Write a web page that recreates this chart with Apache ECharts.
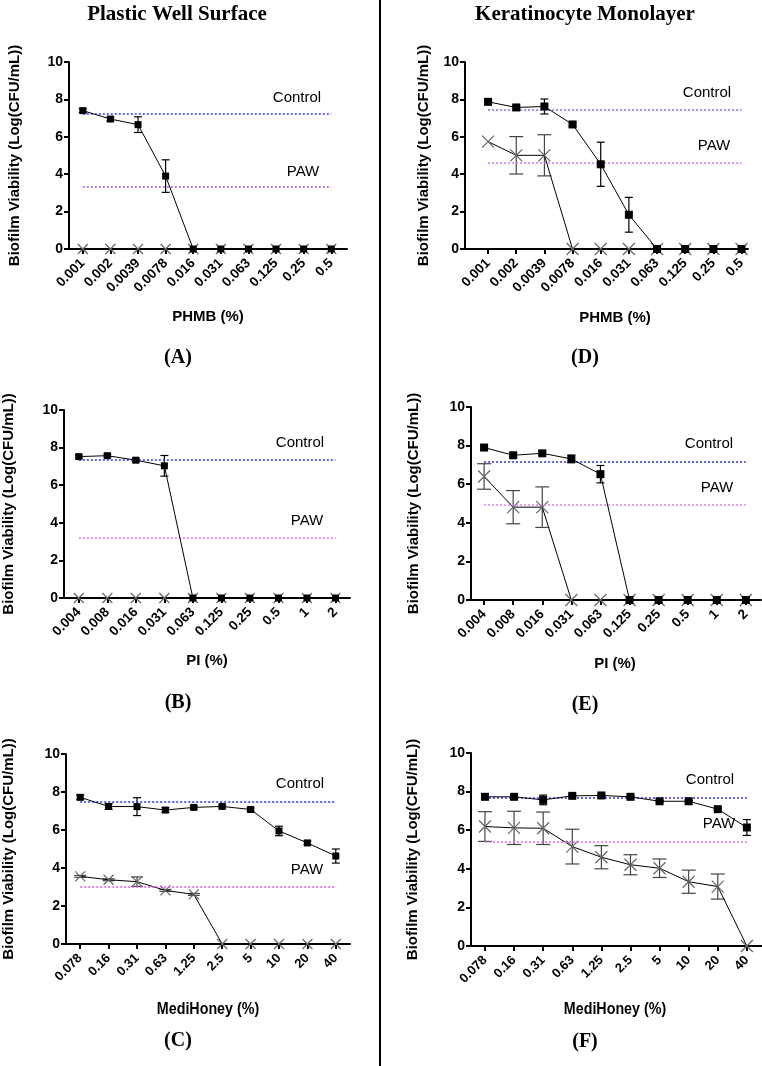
<!DOCTYPE html>
<html>
<head>
<meta charset="utf-8">
<script src="https://cdn.jsdelivr.net/npm/echarts@6/dist/echarts.min.js"></script>
<style>
html,body{margin:0;padding:0;background:#fff;}
#chart{width:762px;height:1066px;}
</style>
</head>
<body>
<div id="chart"></div>
<script>
// ---------- categories ----------
const phmbCats = ['0.001','0.002','0.0039','0.0078','0.016','0.031','0.063','0.125','0.25','0.5'];
const piCats = ['0.004','0.008','0.016','0.031','0.063','0.125','0.25','0.5','1','2'];
const honeyCats = ['0.078','0.16','0.31','0.63','1.25','2.5','5','10','20','40'];
const yTicks = [0, 2, 4, 6, 8, 10];

// ---------- Panel A (Plastic, PHMB) ----------
const aCtrl    = [7.40, 6.95, 6.65, 3.90, 0, 0, 0, 0, 0, 0];
const aCtrlErr = [0.10, 0.10, 0.42, 0.87, 0, 0, 0, 0, 0, 0];
const aPaw     = [0, 0, 0, 0, 0, 0, 0, 0, 0, 0];
const aPawErr  = [0, 0, 0, 0, 0, 0, 0, 0, 0, 0];
const aCtrlRef = 7.22;
const aPawRef  = 3.32;

// ---------- Panel B (Plastic, PI) ----------
const bCtrl    = [7.52, 7.57, 7.33, 7.03, 0, 0, 0, 0, 0, 0];
const bCtrlErr = [0.08, 0.08, 0.08, 0.55, 0, 0, 0, 0, 0, 0];
const bPaw     = [0, 0, 0, 0, 0, 0, 0, 0, 0, 0];
const bPawErr  = [0, 0, 0, 0, 0, 0, 0, 0, 0, 0];
const bCtrlRef = 7.38;
const bPawRef  = 3.22;

// ---------- Panel C (Plastic, MediHoney) ----------
const cCtrl    = [7.72, 7.24, 7.23, 7.05, 7.19, 7.24, 7.08, 5.95, 5.32, 4.63];
const cCtrlErr = [0.12, 0.15, 0.47, 0.12, 0.08, 0.08, 0.08, 0.25, 0.10, 0.37];
const cPaw     = [3.56, 3.38, 3.28, 2.82, 2.61, 0, 0, 0, 0, 0];
const cPawErr  = [0.05, 0.05, 0.25, 0.05, 0.05, 0, 0, 0, 0, 0];
const cCtrlRef = 7.50;
const cPawRef  = 3.03;

// ---------- Panel D (Keratinocyte, PHMB) ----------
const dCtrl    = [7.87, 7.57, 7.62, 6.66, 4.53, 1.83, 0, 0, 0, 0];
const dCtrlErr = [0.10, 0.10, 0.40, 0.10, 1.18, 0.93, 0, 0, 0, 0];
const dPaw     = [5.74, 5.01, 5.01, 0, 0, 0, 0, 0, 0, 0];
const dPawErr  = [0, 1.00, 1.10, 0, 0, 0, 0, 0, 0, 0];
const dCtrlRef = 7.46;
const dPawRef  = 4.60;

// ---------- Panel E (Keratinocyte, PI) ----------
const eCtrl    = [7.90, 7.50, 7.60, 7.31, 6.52, 0, 0, 0, 0, 0];
const eCtrlErr = [0.10, 0.10, 0.10, 0.20, 0.45, 0, 0, 0, 0, 0];
const ePaw     = [6.40, 4.81, 4.81, 0, 0, 0, 0, 0, 0, 0];
const ePawErr  = [0.66, 0.86, 1.05, 0, 0, 0, 0, 0, 0, 0];
const eCtrlRef = 7.17;
const ePawRef  = 4.93;

// ---------- Panel F (Keratinocyte, MediHoney) ----------
const fCtrl    = [7.73, 7.73, 7.57, 7.78, 7.80, 7.73, 7.50, 7.50, 7.09, 6.14];
const fCtrlErr = [0.05, 0.05, 0.25, 0.05, 0.05, 0.05, 0.05, 0.05, 0.05, 0.41];
const fPaw     = [6.19, 6.12, 6.10, 5.15, 4.60, 4.21, 4.03, 3.33, 3.08, 0];
const fPawErr  = [0.77, 0.86, 0.84, 0.90, 0.60, 0.52, 0.48, 0.60, 0.65, 0];
const fCtrlRef = 7.68;
const fPawRef  = 5.41;

// ---------- texts ----------
const yName = 'Biofilm Viability (Log(CFU/mL))';
const colTitles = ['Plastic Well Surface', 'Keratinocyte Monolayer'];
const panelLetters = ['(A)', '(B)', '(C)', '(D)', '(E)', '(F)'];
const xNames = ['PHMB (%)', 'PI (%)', 'MediHoney (%)', 'PHMB (%)', 'PI (%)', 'MediHoney (%)'];

// ---------- layout (positions / styles) ----------
const SANS = '"Liberation Sans", Arial, sans-serif';
const SERIF = '"Liberation Serif", "Times New Roman", serif';

const panels = [
  {cats: phmbCats, ctrl: aCtrl, ctrlErr: aCtrlErr, paw: aPaw, pawErr: aPawErr, cRef: aCtrlRef, pRef: aPawRef,
   grid: {left: 69, top: 62, width: 278, height: 187}, xmin: -0.5, xmax: 9.57, nameGap: 47,
   cCol: '#3c3cf5', pCol: '#a256c8', sq: 7, xs: 10, capC: 4, capP: 5, narrow: false,
   ctrlTxt: [297, 98], pawTxt: [303, 172], xName: [208, 317], letter: [178, 358]},
  {cats: piCats, ctrl: bCtrl, ctrlErr: bCtrlErr, paw: bPaw, pawErr: bPawErr, cRef: bCtrlRef, pRef: bPawRef,
   grid: {left: 64, top: 410, width: 286, height: 188}, xmin: -0.52, xmax: 9.51, nameGap: 48,
   cCol: '#3434ee', pCol: '#e070f0', sq: 7, xs: 10, capC: 4, capP: 5, narrow: false,
   ctrlTxt: [300, 443], pawTxt: [307, 521], xName: [207, 661], letter: [178, 703]},
  {cats: honeyCats, ctrl: cCtrl, ctrlErr: cCtrlErr, paw: cPaw, pawErr: cPawErr, cRef: cCtrlRef, pRef: cPawRef,
   grid: {left: 65, top: 754, width: 285, height: 190}, xmin: -0.5, xmax: 9.5, nameGap: 50,
   cCol: '#2c2ce6', pCol: '#e050f0', sq: 7, xs: 10, capC: 4, capP: 6, narrow: true,
   ctrlTxt: [300, 784], pawTxt: [307, 870], xName: [208, 1009], letter: [178, 1041]},
  {cats: phmbCats, ctrl: dCtrl, ctrlErr: dCtrlErr, paw: dPaw, pawErr: dPawErr, cRef: dCtrlRef, pRef: dPawRef,
   grid: {left: 465, top: 62, width: 283, height: 187}, xmin: -0.82, xmax: 9.23, nameGap: 34,
   cCol: '#7070f2', pCol: '#c878f0', sq: 8, xs: 12, capC: 4, capP: 7, narrow: false,
   ctrlTxt: [707, 93], pawTxt: [714, 146], xName: [615, 318], letter: [585, 358]},
  {cats: piCats, ctrl: eCtrl, ctrlErr: eCtrlErr, paw: ePaw, pawErr: ePawErr, cRef: eCtrlRef, pRef: ePawRef,
   grid: {left: 471, top: 407, width: 290, height: 193}, xmin: -0.45, xmax: 9.52, nameGap: 50,
   cCol: '#3030e0', pCol: '#d880f0', sq: 8, xs: 12, capC: 4, capP: 7, narrow: false,
   ctrlTxt: [709, 444], pawTxt: [717, 488], xName: [615, 664], letter: [585, 705]},
  {cats: honeyCats, ctrl: fCtrl, ctrlErr: fCtrlErr, paw: fPaw, pawErr: fPawErr, cRef: fCtrlRef, pRef: fPawRef,
   grid: {left: 471, top: 753, width: 291, height: 193}, xmin: -0.48, xmax: 9.52, nameGap: 51,
   cCol: '#3030e0', pCol: '#d870f0', sq: 8, xs: 12, capC: 4, capP: 7, narrow: true,
   ctrlTxt: [710, 780], pawTxt: [719, 824], xName: [615, 1009], letter: [585, 1042]}
];

const X_SYMBOL = 'path://M0,0L10,10M10,0L0,10';

function errSeries(gi, vals, errs, color, cap) {
  return {
    type: 'custom', xAxisIndex: gi, yAxisIndex: gi, silent: true, z: 3,
    data: vals.map((v, i) => [i, v, errs[i]]),
    renderItem: function (params, api) {
      const x = api.value(0), v = api.value(1), e = api.value(2);
      if (!e) return null;
      const t = api.coord([x, v + e]);
      const b = api.coord([x, v - e]);
      const st = {stroke: color, lineWidth: 1.2};
      return {type: 'group', children: [
        {type: 'line', shape: {x1: t[0], y1: t[1], x2: b[0], y2: b[1]}, style: st},
        {type: 'line', shape: {x1: t[0] - cap, y1: t[1], x2: t[0] + cap, y2: t[1]}, style: st},
        {type: 'line', shape: {x1: b[0] - cap, y1: b[1], x2: b[0] + cap, y2: b[1]}, style: st}
      ]};
    }
  };
}

function refLine(val, color) {
  return {
    silent: true, symbol: 'none', animation: false,
    label: {show: false},
    lineStyle: {color: color, type: [2, 2], width: 1.5},
    data: [[{coord: [0, val]}, {coord: [9, val]}]]
  };
}

const grids = [], xAxes = [], yAxes = [], series = [], graphics = [];
const idxs = [0, 1, 2, 3, 4, 5, 6, 7, 8, 9];

panels.forEach((p, gi) => {
  grids.push(Object.assign({containLabel: false}, p.grid));
  xAxes.push({
    type: 'value', gridIndex: gi, min: p.xmin, max: p.xmax,
    axisLine: {show: true, onZero: false, lineStyle: {color: '#000', width: 2}},
    axisTick: {show: true, customValues: idxs, length: 5, lineStyle: {color: '#000', width: 2}},
    axisLabel: {
      show: true, customValues: idxs, rotate: 45, margin: 12,
      color: '#000', fontWeight: 'bold', fontSize: p.narrow ? 13 : 13.5, fontFamily: SANS,
      formatter: v => p.cats[Math.round(v)]
    },
    splitLine: {show: false}
  });
  yAxes.push({
    type: 'value', gridIndex: gi, min: 0, max: 10, interval: 2,
    name: yName, nameLocation: 'middle', nameRotate: 90, nameGap: p.nameGap,
    nameTextStyle: {color: '#000', fontWeight: 'bold', fontSize: 15, fontFamily: SANS},
    axisLine: {show: true, onZero: false, lineStyle: {color: '#000', width: 2}},
    axisTick: {show: true, length: 5, lineStyle: {color: '#000', width: 2}},
    axisLabel: {color: '#000', fontWeight: 'bold', fontSize: 14, fontFamily: SANS, margin: 6},
    splitLine: {show: false}
  });
  series.push(errSeries(gi, p.paw, p.pawErr, '#444', p.capP));
  series.push({
    type: 'line', xAxisIndex: gi, yAxisIndex: gi, z: 4,
    data: p.paw.map((v, i) => [i, v]),
    symbol: X_SYMBOL, symbolSize: p.xs, showAllSymbol: true,
    itemStyle: {color: '#666', borderColor: '#666', borderWidth: 1.2},
    lineStyle: {color: '#000', width: 1},
    markLine: refLine(p.pRef, p.pCol)
  });
  series.push(errSeries(gi, p.ctrl, p.ctrlErr, '#000', p.capC));
  series.push({
    type: 'line', xAxisIndex: gi, yAxisIndex: gi, z: 5,
    data: p.ctrl.map((v, i) => [i, v]),
    symbol: 'rect', symbolSize: p.sq, showAllSymbol: true,
    itemStyle: {color: '#000'},
    lineStyle: {color: '#000', width: 1},
    markLine: refLine(p.cRef, p.cCol)
  });
  graphics.push({type: 'text', style: {text: 'Control', x: p.ctrlTxt[0], y: p.ctrlTxt[1], align: 'center', verticalAlign: 'middle', font: '15px ' + SANS, fill: '#000'}});
  graphics.push({type: 'text', style: {text: 'PAW', x: p.pawTxt[0], y: p.pawTxt[1], align: 'center', verticalAlign: 'middle', font: '15px ' + SANS, fill: '#000'}});
  if (p.narrow) {
    graphics.push({type: 'text', x: p.xName[0], y: p.xName[1], scaleX: 0.84, scaleY: 1,
      style: {text: xNames[gi], x: 0, y: 0, align: 'center', verticalAlign: 'middle', font: 'bold 17px ' + SANS, fill: '#000'}});
  } else {
    graphics.push({type: 'text', style: {text: xNames[gi], x: p.xName[0], y: p.xName[1], align: 'center', verticalAlign: 'middle', font: 'bold 15px ' + SANS, fill: '#000'}});
  }
  graphics.push({type: 'text', style: {text: panelLetters[gi], x: p.letter[0], y: p.letter[1], align: 'center', verticalAlign: 'middle', font: 'bold 20px ' + SERIF, fill: '#000'}});
});

graphics.push({type: 'text', style: {text: colTitles[0], x: 177, y: 15, align: 'center', verticalAlign: 'middle', font: 'bold 21px ' + SERIF, fill: '#000'}});
graphics.push({type: 'text', style: {text: colTitles[1], x: 585, y: 15, align: 'center', verticalAlign: 'middle', font: 'bold 21px ' + SERIF, fill: '#000'}});
graphics.push({type: 'line', shape: {x1: 380, y1: 0, x2: 380, y2: 1066}, style: {stroke: '#000', lineWidth: 2}});

const chart = echarts.init(document.getElementById('chart'), null, {renderer: 'canvas'});
chart.setOption({
  animation: false,
  backgroundColor: '#fff',
  grid: grids, xAxis: xAxes, yAxis: yAxes, series: series,
  graphic: graphics
});
</script>
</body>
</html>
